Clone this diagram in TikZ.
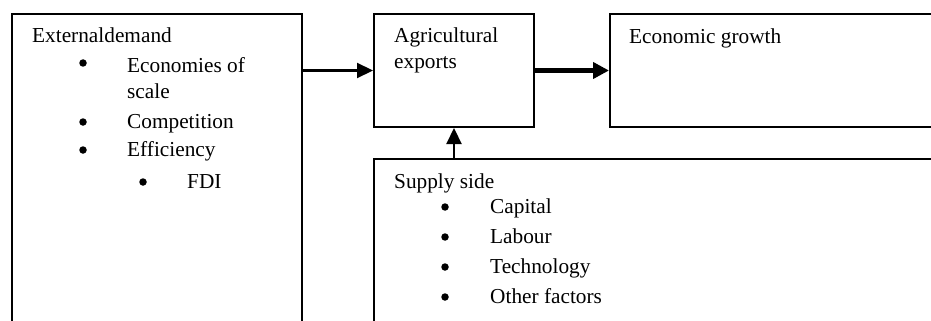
\documentclass[tikz,border=0pt]{standalone}
\usepackage{fontspec}
\setmainfont{Liberation Serif}
\usetikzlibrary{arrows.meta}
\begin{document}
\begin{tikzpicture}[x=1pt,y=-1pt,
  box/.style={draw,line width=2pt,rectangle,anchor=north west,inner sep=0pt},
  txt/.style={anchor=base west,inner sep=0pt,font=\fontsize{21.3}{25}\selectfont},
  dot/.style={circle,fill,inner sep=0pt,minimum size=7.5pt},
  link/.style={line width=2.2pt,-{Triangle[length=16pt,width=15pt]}},
  biglink/.style={line width=5pt,-{Triangle[length=16pt,width=16pt]}}]
\useasboundingbox (0,0) rectangle (931,321);
\clip (0,0) rectangle (931,321);
% boxes
\node[box,minimum width=290pt,minimum height=340pt] (ext) at (11,13) {};
\node[box,minimum width=160pt,minimum height=113pt] (agri) at (373,13) {};
\node[box,minimum width=340pt,minimum height=113pt] (econ) at (609,13) {};
\node[box,minimum width=580pt,minimum height=200pt] (supply) at (373,158) {};
% external demand
\node[txt] (t1) at (32,43) {Externaldemand};
\node[dot] (b1) at (83,63) {};
\node[txt] (t2) at (127,73) {Economies of};
\node[txt] (t3) at (127,98) {scale};
\node[dot] (b2) at (83,122) {};
\node[txt] (t4) at (127,128) {Competition};
\node[dot] (b3) at (83,150) {};
\node[txt] (t5) at (127,156) {Efficiency};
\node[dot] (b4) at (143,182) {};
\node[txt] (t6) at (187,188) {FDI};
% agricultural exports
\node[txt] (a1) at (394,43) {Agricultural};
\node[txt] (a2) at (394,69) {exports};
% economic growth
\node[txt] (e1) at (629,44) {Economic growth};
% supply side
\node[txt] (s0) at (394,188) {Supply side};
\node[dot] (sb1) at (445,207) {};
\node[txt] (s1) at (490,213) {Capital};
\node[dot] (sb2) at (445,237) {};
\node[txt] (s2) at (490,243) {Labour};
\node[dot] (sb3) at (445,267) {};
\node[txt] (s3) at (490,273) {Technology};
\node[dot] (sb4) at (445,297) {};
\node[txt] (s4) at (490,303) {Other factors};
% connectors
\draw[link] (ext.east |- agri.west) -- (agri.west);
\draw[biglink] (agri.east) -- (econ.west);
\draw[link] (supply.north -| agri.south) -- (agri.south);
\end{tikzpicture}
\end{document}
